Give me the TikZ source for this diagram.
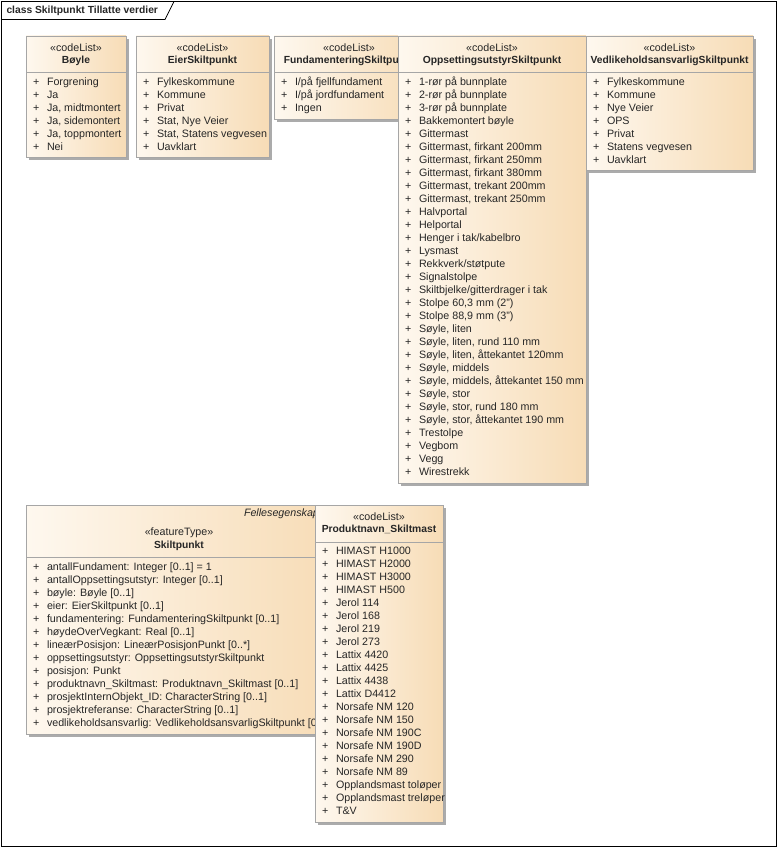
\documentclass[tikz,border=0pt]{standalone}
\usepackage{fontspec}
\setmainfont{Liberation Sans}
\usetikzlibrary{shadows}
\definecolor{boxL}{HTML}{FEF8EF}
\definecolor{boxR}{HTML}{F7DCB6}
\definecolor{boxline}{HTML}{A6A6A6}
\definecolor{shad}{HTML}{ABABAB}
\tikzset{
  ubox/.style={draw=boxline, line width=0.9pt, left color=boxL, right color=boxR,
    inner sep=0pt, outer sep=0pt, anchor=north west,
    general shadow={fill=shad, shadow xshift=3pt, shadow yshift=-3pt}},
  divline/.style={draw=boxline, line width=0.9pt},
  txt/.style={inner sep=0pt, outer sep=0pt, font=\fontsize{10.7}{12}\selectfont, text=black!85},
  item/.style={txt, anchor=mid west},
  stereo/.style={txt, anchor=mid},
  cname/.style={txt, anchor=mid, font=\fontsize{10.3}{12}\selectfont\bfseries},
  frame/.style={draw=black, line width=0.8pt},
}
% box: name, x, y, w, h, divider y
\newcommand\umlbox[6]{%
  \node[ubox, minimum width=#4pt, minimum height=#5pt] (#1) at (#2,#3) {};
  \draw[divline] (#1.west |- 0,#6) -- (#1.east |- 0,#6);
}
% items: prefix, x of box, first y, list
\newcommand\umlitems[4]{%
  \foreach \t [count=\i from 0] in {#4} {
    \node[item] (#1-p\i) at (#2+7, #3+13*\i) {+};
    \node[item] (#1-t\i) at (#2+21, #3+13*\i) {\t};
  }
}
\begin{document}
\begin{tikzpicture}[x=1pt, y=-1pt]
\useasboundingbox (0,0) rectangle (778,848);
% frame
\draw[frame] (1.5,1.5) rectangle (776,846);
\draw[frame] (1.5,19.5) -- (165,19.5) -- (174,1.5);
\node[txt, anchor=mid west, font=\fontsize{10.3}{12}\selectfont\bfseries] (title) at (6.5,11) {class Skiltpunkt Tillatte verdier};

% Boyle
\umlbox{boyle}{26}{36}{100}{121}{72}
\node[stereo] (boyle-s) at (76,48.5) {«codeList»};
\node[cname] (boyle-n) at (76,61) {Bøyle};
\umlitems{bo}{26}{82.5}{Forgrening, Ja, {Ja, midtmontert}, {Ja, sidemontert}, {Ja, toppmontert}, Nei}

% EierSkiltpunkt
\umlbox{eier}{136}{36}{133}{121}{72}
\node[stereo] (eier-s) at (202.5,48.5) {«codeList»};
\node[cname] (eier-n) at (202.5,61) {EierSkiltpunkt};
\umlitems{ei}{136}{82.5}{Fylkeskommune, Kommune, Privat, {Stat, Nye Veier}, {Stat, Statens vegvesen}, Uavklart}

% FundamenteringSkiltpunkt
\umlbox{fund}{274}{36}{150}{83}{72}
\node[stereo] (fund-s) at (349,48.5) {«codeList»};
\node[cname] (fund-n) at (349,61) {FundamenteringSkiltpunkt};
\umlitems{fu}{274}{82.5}{I/på fjellfundament, I/på jordfundament, Ingen}

% OppsettingsutstyrSkiltpunkt
\umlbox{opp}{398}{36}{188}{447}{72}
\node[stereo] (opp-s) at (492,48.5) {«codeList»};
\node[cname] (opp-n) at (492,61) {OppsettingsutstyrSkiltpunkt};
\umlitems{op}{398}{82.5}{1-rør på bunnplate, 2-rør på bunnplate, 3-rør på bunnplate, Bakkemontert bøyle, Gittermast, {Gittermast, firkant 200mm}, {Gittermast, firkant 250mm}, {Gittermast, firkant 380mm}, {Gittermast, trekant 200mm}, {Gittermast, trekant 250mm}, Halvportal, Helportal, Henger i tak/kabelbro, Lysmast, Rekkverk/støtpute, Signalstolpe, Skiltbjelke/gitterdrager i tak, {Stolpe 60,3 mm (2")}, {Stolpe 88,9 mm (3")}, {Søyle, liten}, {Søyle, liten, rund 110 mm}, {Søyle, liten, åttekantet 120mm}, {Søyle, middels}, {Søyle, middels, åttekantet 150 mm}, {Søyle, stor}, {Søyle, stor, rund 180 mm}, {Søyle, stor, åttekantet 190 mm}, Trestolpe, Vegbom, Vegg, Wirestrekk}

% VedlikeholdsansvarligSkiltpunkt
\umlbox{ved}{586}{36}{167}{134}{72}
\node[stereo] (ved-s) at (669.5,48.5) {«codeList»};
\node[cname] (ved-n) at (669.5,61) {VedlikeholdsansvarligSkiltpunkt};
\umlitems{ve}{586}{82.5}{Fylkeskommune, Kommune, Nye Veier, OPS, Privat, Statens vegvesen, Uavklart}

% Skiltpunkt
\umlbox{skilt}{26}{505}{306}{229}{557}
\node[item, font=\fontsize{10.7}{12}\selectfont\itshape] (skilt-f) at (244,514) {Fellesegenskaper};
\node[stereo] (skilt-s) at (179,533) {«featureType»};
\node[cname] (skilt-n) at (179,546) {Skiltpunkt};
\umlitems{sk}{26}{568}{{antallFundament: Integer [0..1] = 1}, {antallOppsettingsutstyr: Integer [0..1]}, {bøyle: Bøyle [0..1]}, {eier: EierSkiltpunkt [0..1]}, {fundamentering: FundamenteringSkiltpunkt [0..1]}, {høydeOverVegkant: Real [0..1]}, {lineærPosisjon: LineærPosisjonPunkt [0..*]}, {oppsettingsutstyr: OppsettingsutstyrSkiltpunkt}, {posisjon: Punkt}, {produktnavn\_Skiltmast: Produktnavn\_Skiltmast [0..1]}, {prosjektInternObjekt\_ID: CharacterString [0..1]}, {prosjektreferanse: CharacterString [0..1]}, {vedlikeholdsansvarlig: VedlikeholdsansvarligSkiltpunkt [0..1]}}

% Produktnavn_Skiltmast
\umlbox{prod}{315}{505}{128}{317}{542}
\node[stereo] (prod-s) at (379,518) {«codeList»};
\node[cname] (prod-n) at (379,529.5) {Produktnavn\_Skiltmast};
\umlitems{pr}{315}{552}{HIMAST H1000, HIMAST H2000, HIMAST H3000, HIMAST H500, Jerol 114, Jerol 168, Jerol 219, Jerol 273, Lattix 4420, Lattix 4425, Lattix 4438, Lattix D4412, Norsafe NM 120, Norsafe NM 150, Norsafe NM 190C, Norsafe NM 190D, Norsafe NM 290, Norsafe NM 89, Opplandsmast toløper, Opplandsmast treløper, T\&V}
\end{tikzpicture}
\end{document}
